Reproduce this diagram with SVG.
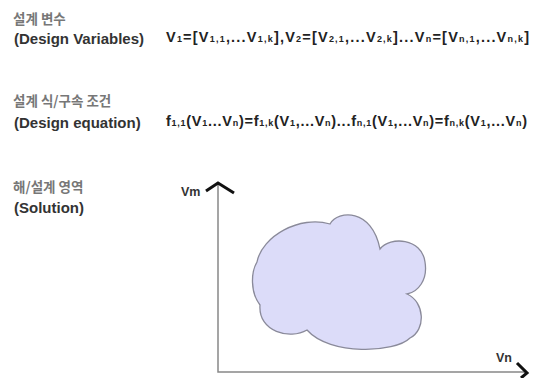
<svg xmlns="http://www.w3.org/2000/svg" width="543" height="378" viewBox="0 0 543 378">
<style>
.ko{font-family:"Noto Sans CJK KR","Liberation Sans",sans-serif;font-size:13.5px;font-weight:bold;fill:#777}
.en{font-family:"Liberation Sans",Arial,sans-serif;font-size:15px;font-weight:bold;fill:#333}
.fm{font-family:"Liberation Sans",Arial,sans-serif;font-size:14.5px;font-weight:bold;fill:#222}
.s{font-size:9px}
.ax{fill:none;stroke:#888;stroke-width:1.5}
.ah{fill:none;stroke:#111;stroke-width:3;stroke-linejoin:miter}
.lbl{font-family:"Liberation Sans",Arial,sans-serif;font-size:12.5px;font-weight:bold;fill:#333}
</style>
<rect width="543" height="378" fill="#fff"/>
<g id="variables">
<text class="ko" x="13" y="24">설계 변수</text>
<text class="en" x="14" y="44">(Design Variables)</text>
<text class="fm" x="166" y="42" textLength="363" lengthAdjust="spacing">V<tspan class="s">1</tspan>=[V<tspan class="s">1,1</tspan>,...V<tspan class="s">1,k</tspan>],V<tspan class="s">2</tspan>=[V<tspan class="s">2,1</tspan>,...V<tspan class="s">2,k</tspan>]...V<tspan class="s">n</tspan>=[V<tspan class="s">n,1</tspan>,...V<tspan class="s">n,k</tspan>]</text>
</g>
<g id="equation">
<text class="ko" x="13" y="106">설계 식/구속 조건</text>
<text class="en" x="14" y="128">(Design equation)</text>
<text class="fm" x="166" y="126" textLength="361" lengthAdjust="spacing">f<tspan class="s">1,1</tspan>(V<tspan class="s">1</tspan>...V<tspan class="s">n</tspan>)=f<tspan class="s">1,k</tspan>(V<tspan class="s">1</tspan>,...V<tspan class="s">n</tspan>)...f<tspan class="s">n,1</tspan>(V<tspan class="s">1</tspan>,...V<tspan class="s">n</tspan>)=f<tspan class="s">n,k</tspan>(V<tspan class="s">1</tspan>,...V<tspan class="s">n</tspan>)</text>
</g>
<g id="solution">
<text class="ko" x="13" y="192">해/설계 영역</text>
<text class="en" x="14" y="213">(Solution)</text>
</g>
<g id="connectors">
<path class="ax" d="M218,183 V372 H527"/>
<path class="ah" d="M206,191 L218,183 L234,193"/>
<path class="ah" d="M517,363 L527,373 L521,378"/>
</g>
<g id="axis-labels">
<text class="lbl" x="181" y="196">Vm</text>
<text class="lbl" x="496" y="362">Vn</text>
</g>
<g id="region">
<path d="M330,224 C338,210 372,208 380,249 C390,236 422,238 425,262 C428,280 418,292 407,294 C425,302 426,330 410,338 C395,353 330,356 307,330 C290,340 258,332 260,305 C250,292 251,272 257,262 C262,236 300,215 330,224 Z" fill="#dcdcf9" stroke="#8a8a9a" stroke-width="1.3"/>
</g>
</svg>
